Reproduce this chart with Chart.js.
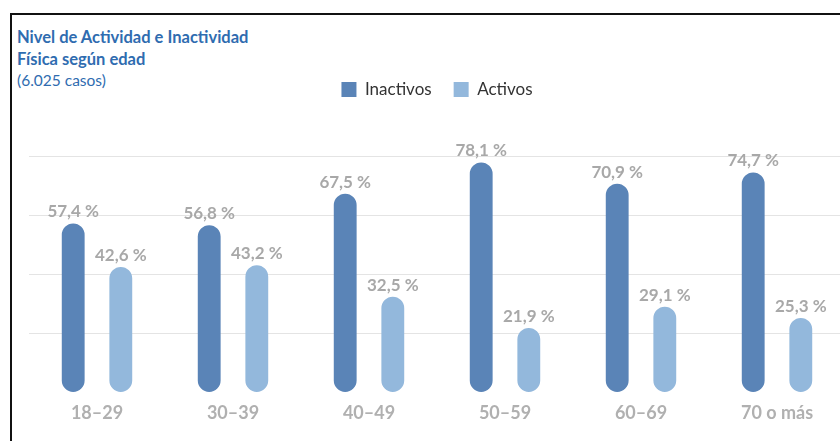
<!DOCTYPE html>
<html>
<head>
<meta charset="utf-8">
<script src="https://cdn.jsdelivr.net/npm/chart.js@4"></script>
<style>
  html, body { margin: 0; padding: 0; background: #fff; overflow: hidden; width: 840px; height: 441px; }
  .frame { position: absolute; left: 10px; top: 13px; width: 900px; height: 500px;
           border-top: 2px solid #111; border-left: 2px solid #111; }
  .title { position: absolute; left: 17px; top: 27px; font-family: Lato, sans-serif;
           color: #2f6cb0; font-size: 16.5px; line-height: 21.5px; }
  .title b { font-weight: bold; }
  .title span { font-size: 15.5px; }
  .wrap { position: absolute; left: 0; top: 0; width: 850px; height: 441px; }
</style>
</head>
<body>
<div class="frame"></div>
<div class="title"><b>Nivel de Actividad e Inactividad</b><br><b>Física según edad</b><br><span>(6.025 casos)</span></div>
<div class="wrap"><canvas id="chart"></canvas></div>
<script>
const categories = ['18–29', '30–39', '40–49', '50–59', '60–69', '70 o más'];
const inactivos = [57.4, 56.8, 67.5, 78.1, 70.9, 74.7];
const activos = [42.6, 43.2, 32.5, 21.9, 29.1, 25.3];

// draw "57,4 %" style labels above each bar
const valueLabels = {
  id: 'valueLabels',
  afterDatasetsDraw(chart) {
    const ctx = chart.ctx;
    ctx.save();
    ctx.font = 'bold 17px Lato, sans-serif';
    ctx.fillStyle = '#a8a8a8';
    ctx.textAlign = 'center';
    ctx.textBaseline = 'alphabetic';
    chart.data.datasets.forEach((ds, i) => {
      chart.getDatasetMeta(i).data.forEach((bar, j) => {
        const txt = ds.data[j].toFixed(1).replace('.', ',') + ' %';
        ctx.fillText(txt, bar.x, bar.y - 6);
      });
    });
    ctx.restore();
  }
};

// pull the plot a little closer to the legend
const legendGap = {
  id: 'legendGap',
  beforeInit(chart) {
    const fit = chart.legend.fit;
    chart.legend.fit = function () {
      fit.bind(chart.legend)();
      this.height -= 10;
    };
  }
};

new Chart(document.getElementById('chart').getContext('2d'), {
  type: 'bar',
  data: {
    labels: categories,
    datasets: [{
      label: 'Inactivos',
      data: inactivos,
      backgroundColor: '#5a84b7',
      borderRadius: 12,
      borderSkipped: false,
      categoryPercentage: 0.7,
      barPercentage: 0.48
    }, {
      label: 'Activos',
      data: activos,
      backgroundColor: '#93b8dc',
      borderRadius: 12,
      borderSkipped: false,
      categoryPercentage: 0.7,
      barPercentage: 0.48
    }]
  },
  options: {
    responsive: true,
    maintainAspectRatio: false,
    animation: false,
    layout: { padding: { left: 29, right: 5, top: 59, bottom: 15 } },
    plugins: {
      legend: {
        position: 'top',
        labels: {
          boxWidth: 15,
          boxHeight: 15,
          padding: 22,
          color: '#333',
          font: { family: 'Lato, sans-serif', size: 17 }
        }
      },
      tooltip: { enabled: false }
    },
    scales: {
      x: {
        grid: { display: false },
        border: { display: false },
        ticks: { color: '#b0b0b0', padding: 2, font: { family: 'Lato, sans-serif', size: 18, weight: 'bold' } }
      },
      y: {
        min: 0,
        max: 100,
        ticks: { display: false, stepSize: 20 },
        border: { display: false },
        grid: {
          drawTicks: false,
          color: c => (c.tick.value === 0 || c.tick.value === 100) ? 'rgba(0,0,0,0)' : '#e4e4e4'
        }
      }
    }
  },
  plugins: [valueLabels, legendGap]
});
</script>
</body>
</html>
